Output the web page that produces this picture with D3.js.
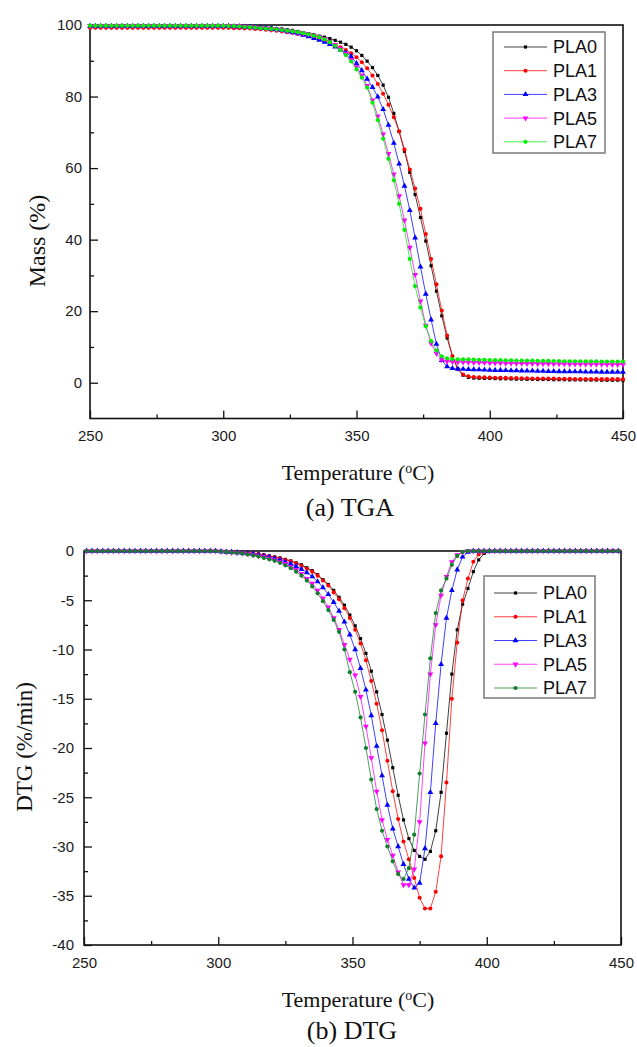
<!DOCTYPE html>
<html>
<head>
<meta charset="utf-8">
<script src="https://cdn.jsdelivr.net/npm/d3@7"></script>
<style>
  body { margin: 0; background: #fff; }
  svg { display: block; }
  .tick text { font-family: "Liberation Sans", Arial, sans-serif; font-size: 15px; fill: #1a1a1a; }
  .tick line { stroke: #111; stroke-width: 1.3; }
  .title { font-family: "Liberation Serif", "Times New Roman", serif; fill: #111; }
  .legend text { font-family: "Liberation Sans", Arial, sans-serif; font-size: 18px; fill: #111; }
</style>
</head>
<body>
<svg width="637" height="1047"></svg>
<script>
// series names shared by both panels
const seriesNames = ["PLA0", "PLA1", "PLA3", "PLA5", "PLA7"];

// (a) TGA: temperature (°C) and mass (%)
const tgaTemp = [250,252,254,256,258,260,262,264,266,268,270,272,274,276,278,280,282,284,286,288,
  290,292,294,296,298,300,302,304,306,308,310,312,314,316,318,320,322,324,326,328,
  330,332,334,336,338,340,342,344,346,348,350,352,354,356,358,360,362,364,366,368,
  370,372,374,376,378,380,382,384,386,388,390,392,394,396,398,400,402,404,406,408,
  410,412,414,416,418,420,422,424,426,428,430,432,434,436,438,440,442,444,446,448,450];

const tgaPLA0 = [99.8,99.8,99.8,99.8,99.8,99.8,99.8,99.8,99.8,99.8,
  99.8,99.8,99.8,99.8,99.8,99.8,99.8,99.8,99.8,99.8,
  99.8,99.8,99.8,99.8,99.8,99.8,99.8,99.7,99.7,99.6,
  99.6,99.5,99.4,99.3,99.2,99.0,98.9,98.7,98.5,98.2,
  97.9,97.6,97.3,96.9,96.6,96.2,95.7,95.2,94.6,93.8,
  92.8,91.5,89.9,88.1,85.9,83.2,79.8,75.3,70.2,64.7,
  58.8,52.6,46.2,39.6,32.7,25.6,18.7,12.5,7.4,3.9,
  2.1,1.5,1.3,1.25,1.2,1.2,1.15,1.1,1.1,1.05,
  1.0,1.0,0.95,0.95,0.9,0.9,0.9,0.85,0.85,0.85,
  0.8,0.8,0.8,0.75,0.75,0.75,0.7,0.7,0.7,0.7,0.7];

const tgaPLA1 = [99.2,99.2,99.2,99.2,99.2,99.2,99.2,99.2,99.2,99.2,
  99.2,99.2,99.2,99.2,99.2,99.2,99.2,99.2,99.2,99.2,
  99.2,99.2,99.2,99.2,99.2,99.2,99.2,99.1,99.1,99.0,
  99.0,98.9,98.8,98.7,98.5,98.4,98.2,98.0,97.8,97.5,
  97.2,96.9,96.5,96.1,95.6,95.1,94.5,93.8,93.0,92.1,
  91.0,89.6,87.9,85.9,83.5,80.8,77.7,74.2,70.3,65.2,
  59.6,54.3,48.6,41.6,34.6,27.5,20.2,13.2,7.4,3.8,
  2.3,1.8,1.6,1.55,1.5,1.45,1.4,1.4,1.35,1.3,
  1.3,1.25,1.25,1.2,1.2,1.2,1.15,1.15,1.1,1.1,
  1.1,1.05,1.05,1.05,1.0,1.0,1.0,1.0,1.0,1.0,1.0];

const tgaPLA3 = [99.7,99.7,99.7,99.7,99.7,99.7,99.7,99.7,99.7,99.7,
  99.7,99.7,99.7,99.7,99.7,99.7,99.7,99.7,99.7,99.7,
  99.7,99.7,99.7,99.7,99.7,99.7,99.7,99.6,99.6,99.5,
  99.4,99.3,99.2,99.1,98.9,98.7,98.5,98.2,97.9,97.6,
  97.2,96.8,96.3,95.8,95.2,94.6,93.9,93.1,92.3,91.2,
  89.3,87.3,84.9,82.6,79.9,76.4,72.0,67.0,61.2,55.0,
  48.2,40.5,32.4,24.8,17.6,10.8,6.3,4.5,4.0,3.85,
  3.8,3.75,3.7,3.65,3.6,3.55,3.5,3.5,3.45,3.4,
  3.4,3.35,3.3,3.3,3.25,3.25,3.2,3.2,3.15,3.15,
  3.1,3.1,3.1,3.05,3.05,3.05,3.0,3.0,3.0,3.0,3.0];

const tgaPLA5 = [99.8,99.8,99.8,99.8,99.8,99.8,99.8,99.8,99.8,99.8,
  99.8,99.8,99.8,99.8,99.8,99.8,99.8,99.8,99.8,99.8,
  99.8,99.8,99.8,99.8,99.8,99.8,99.8,99.7,99.7,99.6,
  99.5,99.4,99.2,99.1,98.9,98.8,98.6,98.4,98.2,97.9,
  97.7,97.4,97.1,96.7,96.1,95.4,94.5,93.4,92.0,90.3,
  88.3,85.9,83.0,79.0,74.5,69.5,64.0,58.3,52.2,45.4,
  37.8,30.2,22.8,16.0,11.0,8.2,6.4,5.95,5.85,5.8,
  5.75,5.7,5.65,5.6,5.6,5.55,5.5,5.5,5.45,5.45,
  5.4,5.4,5.35,5.35,5.3,5.3,5.3,5.25,5.25,5.25,
  5.2,5.2,5.2,5.2,5.15,5.15,5.15,5.1,5.1,5.1,5.1];

const tgaPLA7 = [99.8,99.8,99.8,99.8,99.8,99.8,99.8,99.8,99.8,99.8,
  99.8,99.8,99.8,99.8,99.8,99.8,99.8,99.8,99.8,99.8,
  99.8,99.8,99.8,99.8,99.8,99.8,99.7,99.7,99.6,99.5,
  99.4,99.3,99.1,99.0,98.9,98.8,98.6,98.4,98.2,98.0,
  97.7,97.4,97.0,96.6,96.0,95.2,94.2,93.0,91.6,89.8,
  87.6,85.3,82.5,78.3,73.4,68.2,62.6,56.6,50.0,42.7,
  34.6,27.0,21.0,15.8,11.6,9.0,7.4,6.8,6.6,6.55,
  6.5,6.5,6.45,6.4,6.4,6.35,6.3,6.3,6.25,6.25,
  6.2,6.2,6.15,6.15,6.1,6.1,6.1,6.05,6.05,6.0,
  6.0,6.0,6.0,5.95,5.95,5.95,5.9,5.9,5.9,5.9,5.9];

// (b) DTG: temperature (°C) and rate (%/min)
const dtgTemp = [251,253,255,257,259,261,263,265,267,269,271,273,275,277,279,281,283,285,287,289,
  291,293,295,297,299,301,303,305,307,309,311,313,315,317,319,321,323,325,327,329,
  331,333,335,337,339,341,343,345,347,349,351,353,355,357,359,361,363,365,367,369,
  371,373,375,377,379,381,383,385,387,389,391,393,395,397,399,401,403,405,407,409,
  411,413,415,417,419,421,423,425,427,429,431,433,435,437,439,441,443,445,447,449];

const dtgPLA0 = [0,0,0,0,0,0,0,0,0,0,
  0,0,0,0,0,0,0,0,0,0,
  0,0,0,0,0,-0.05,-0.05,-0.1,-0.1,-0.15,
  -0.2,-0.25,-0.3,-0.4,-0.5,-0.6,-0.7,-0.85,-1.0,-1.2,
  -1.4,-1.7,-2.0,-2.4,-2.9,-3.4,-4.0,-4.7,-5.5,-6.5,
  -7.6,-8.9,-10.4,-12.2,-14.3,-16.6,-19.2,-22.0,-24.8,-27.3,
  -29.2,-30.4,-31.0,-31.3,-30.5,-28.4,-24.5,-18.5,-12.5,-8.0,
  -5.4,-3.8,-2.1,-0.9,-0.25,-0.05,0,0,0,0,
  0,0,0,0,0,0,0,0,0,0,
  0,0,0,0,0,0,0,0,0,0];

const dtgPLA1 = [0,0,0,0,0,0,0,0,0,0,
  0,0,0,0,0,0,0,0,0,0,
  0,0,0,0,0,-0.05,-0.05,-0.1,-0.1,-0.15,
  -0.2,-0.25,-0.3,-0.4,-0.5,-0.6,-0.75,-0.9,-1.05,-1.25,
  -1.5,-1.8,-2.1,-2.5,-3.0,-3.5,-4.2,-4.9,-5.8,-6.8,
  -8.0,-9.4,-11.1,-13.2,-15.5,-18.2,-21.3,-24.4,-27.2,-29.5,
  -31.3,-33.2,-35.2,-36.3,-36.3,-34.6,-31.0,-23.5,-15.0,-9.3,
  -5.0,-2.8,-1.1,-0.35,-0.1,0,0,0,0,0,
  0,0,0,0,0,0,0,0,0,0,
  0,0,0,0,0,0,0,0,0,0];

const dtgPLA3 = [0,0,0,0,0,0,0,0,0,0,
  0,0,0,0,0,0,0,0,0,0,
  0,0,0,0,0,-0.05,-0.1,-0.1,-0.15,-0.2,
  -0.25,-0.3,-0.4,-0.5,-0.6,-0.75,-0.9,-1.1,-1.3,-1.55,
  -1.85,-2.2,-2.6,-3.1,-3.7,-4.4,-5.2,-6.1,-7.2,-8.5,
  -10.0,-11.9,-14.1,-16.7,-19.8,-22.8,-25.8,-28.2,-30.0,-31.8,
  -33.3,-34.2,-33.7,-30.2,-24.5,-17.5,-11.5,-6.8,-4.0,-1.9,
  -0.6,-0.1,0,0,0,0,0,0,0,0,
  0,0,0,0,0,0,0,0,0,0,
  0,0,0,0,0,0,0,0,0,0];

const dtgPLA5 = [0,0,0,0,0,0,0,0,0,0,
  0,0,0,0,0,0,0,0,0,0,
  0,0,0,0,0,-0.05,-0.1,-0.15,-0.2,-0.25,
  -0.3,-0.4,-0.5,-0.6,-0.75,-0.9,-1.1,-1.3,-1.6,-1.9,
  -2.3,-2.8,-3.3,-4.0,-4.8,-5.7,-6.8,-8.0,-9.5,-11.0,
  -12.6,-14.8,-17.8,-21.0,-24.4,-27.3,-29.3,-30.9,-32.6,-33.9,
  -33.9,-32.3,-27.5,-19.5,-12.5,-7.5,-4.5,-2.6,-1.1,-0.4,
  -0.1,0,0,0,0,0,0,0,0,0,
  0,0,0,0,0,0,0,0,0,0,
  0,0,0,0,0,0,0,0,0,0];

const dtgPLA7 = [0,0,0,0,0,0,0,0,0,0,
  0,0,0,0,0,0,0,0,0,0,
  0,0,0,0,0,-0.05,-0.1,-0.15,-0.2,-0.25,
  -0.35,-0.45,-0.55,-0.7,-0.85,-1.0,-1.2,-1.45,-1.75,-2.1,
  -2.5,-3.0,-3.6,-4.3,-5.1,-6.0,-7.0,-8.2,-10.0,-12.3,
  -14.3,-16.9,-20.0,-23.2,-26.2,-28.4,-30.0,-31.5,-32.8,-33.3,
  -32.2,-28.8,-22.6,-16.6,-10.9,-6.3,-4.0,-2.8,-1.4,-0.5,
  -0.1,0,0,0,0,0,0,0,0,0,
  0,0,0,0,0,0,0,0,0,0,
  0,0,0,0,0,0,0,0,0,0];

// tick values
const xMajor = [250, 300, 350, 400, 450];
const xMinor = [275, 325, 375, 425];
const tgaYMajor = [0, 20, 40, 60, 80, 100];
const tgaYMinor = [10, 30, 50, 70, 90];
const dtgYMajor = [0, -5, -10, -15, -20, -25, -30, -35, -40];
const dtgYMinor = [-2.5, -7.5, -12.5, -17.5, -22.5, -27.5, -32.5, -37.5];

const svg = d3.select("svg");

const markerTypes = [
  { type: d3.symbolSquare, size: 10, rot: 0 },
  { type: d3.symbolCircle, size: 13, rot: 0 },
  { type: d3.symbolTriangle, size: 15, rot: 0 },
  { type: d3.symbolTriangle, size: 15, rot: 180 },
  { type: d3.symbolCircle, size: 14, rot: 0 }
];

function drawPanel(p) {
  let g = svg.append("g");
  let x = d3.scaleLinear().domain([250, 450]).range([p.left, p.right]);
  let y = d3.scaleLinear().domain(p.yDomain).range([p.bottom, p.top]);

  // frame
  g.append("rect")
    .attr("x", p.left).attr("y", p.top)
    .attr("width", p.right - p.left).attr("height", p.bottom - p.top)
    .attr("fill", "none").attr("stroke", "#111").attr("stroke-width", 1.6);

  // axes, ticks pointing inward
  let axes = g.append("g");
  axes.append("g").attr("transform", `translate(0,${p.bottom})`)
    .call(d3.axisBottom(x).tickValues(xMajor).tickSizeInner(-8).tickSizeOuter(0)
      .tickPadding(12).tickFormat(d => String(d)));
  axes.append("g").attr("transform", `translate(0,${p.bottom})`)
    .call(d3.axisBottom(x).tickValues(xMinor).tickSizeInner(-4).tickSizeOuter(0).tickFormat(""));
  axes.append("g").attr("transform", `translate(${p.left},0)`)
    .call(d3.axisLeft(y).tickValues(p.yMajor).tickSizeInner(-8).tickSizeOuter(0)
      .tickPadding(p.yPad).tickFormat(d => String(d)));
  axes.append("g").attr("transform", `translate(${p.left},0)`)
    .call(d3.axisLeft(y).tickValues(p.yMinor).tickSizeInner(-4).tickSizeOuter(0).tickFormat(""));
  axes.selectAll(".domain").remove();

  // curves
  let line = d3.line().x(d => x(d[0])).y(d => y(d[1]));
  p.series.forEach((vals, i) => {
    let pts = p.temps.map((t, k) => [t, vals[k]]);
    let s = g.append("g");
    s.append("path").datum(pts)
      .attr("d", line).attr("fill", "none")
      .attr("stroke", p.colors[i]).attr("stroke-width", 1).attr("stroke-opacity", 0.75);
    let m = markerTypes[i];
    s.selectAll("path.mk").data(pts).enter().append("path")
      .attr("class", "mk")
      .attr("d", d3.symbol().type(m.type).size(m.size))
      .attr("transform", d => `translate(${x(d[0])},${y(d[1])}) rotate(${m.rot})`)
      .attr("fill", p.colors[i]);
  });

  // legend
  let L = p.legend;
  let lg = g.append("g").attr("class", "legend");
  lg.append("rect")
    .attr("x", L.x).attr("y", L.y).attr("width", L.w).attr("height", L.h)
    .attr("fill", "#fff").attr("stroke", "#7a7a7a").attr("stroke-width", 1.5);
  seriesNames.forEach((name, i) => {
    let cy = L.first + i * L.step;
    let m = markerTypes[i];
    lg.append("line")
      .attr("x1", L.lx0).attr("x2", L.lx1).attr("y1", cy).attr("y2", cy)
      .attr("stroke", p.colors[i]).attr("stroke-width", 1).attr("stroke-opacity", 0.75);
    lg.append("path")
      .attr("d", d3.symbol().type(m.type).size(m.size))
      .attr("transform", `translate(${(L.lx0 + L.lx1) / 2},${cy}) rotate(${m.rot})`)
      .attr("fill", p.colors[i]);
    lg.append("text").attr("x", L.tx).attr("y", cy).attr("dy", "0.36em").text(name);
  });

  // titles
  let xt = g.append("text").attr("class", "title")
    .attr("x", p.xTitleX).attr("y", p.xTitleY)
    .attr("text-anchor", "middle").style("font-size", "22px");
  xt.append("tspan").text("Temperature (");
  xt.append("tspan").attr("baseline-shift", "super").style("font-size", "14px").text("o");
  xt.append("tspan").text("C)");

  g.append("text").attr("class", "title")
    .attr("transform", `translate(${p.yTitleX},${p.yTitleY}) rotate(-90)`)
    .attr("text-anchor", "middle").style("font-size", p.yTitleSize)
    .text(p.yTitle);

  g.append("text").attr("class", "title")
    .attr("x", p.capX).attr("y", p.capY)
    .attr("text-anchor", "middle").style("font-size", "26px")
    .text(p.caption);
}

drawPanel({
  left: 90, right: 623, top: 25, bottom: 418.5,
  yDomain: [-10, 100], yMajor: tgaYMajor, yMinor: tgaYMinor, yPad: 8,
  temps: tgaTemp,
  series: [tgaPLA0, tgaPLA1, tgaPLA3, tgaPLA5, tgaPLA7],
  colors: ["#000000", "#ff0000", "#0000ff", "#ff00ff", "#00ee00"],
  legend: { x: 493, y: 32, w: 112, h: 121, first: 47, step: 23.7, lx0: 504, lx1: 547, tx: 553 },
  xTitleX: 358, xTitleY: 480,
  yTitle: "Mass (%)", yTitleX: 45, yTitleY: 241, yTitleSize: "24px",
  caption: "(a) TGA", capX: 350, capY: 516
});

drawPanel({
  left: 84, right: 621, top: 551, bottom: 945,
  yDomain: [-40, 0], yMajor: dtgYMajor, yMinor: dtgYMinor, yPad: 10,
  temps: dtgTemp,
  series: [dtgPLA0, dtgPLA1, dtgPLA3, dtgPLA5, dtgPLA7],
  colors: ["#000000", "#ff0000", "#0000ff", "#ff00ff", "#11802a"],
  legend: { x: 484, y: 576, w: 111, h: 122, first: 593, step: 23.75, lx0: 494, lx1: 537, tx: 543 },
  xTitleX: 358, xTitleY: 1007,
  yTitle: "DTG (%/min)", yTitleX: 32, yTitleY: 747, yTitleSize: "23px",
  caption: "(b) DTG", capX: 352, capY: 1039
});
</script>
</body>
</html>
